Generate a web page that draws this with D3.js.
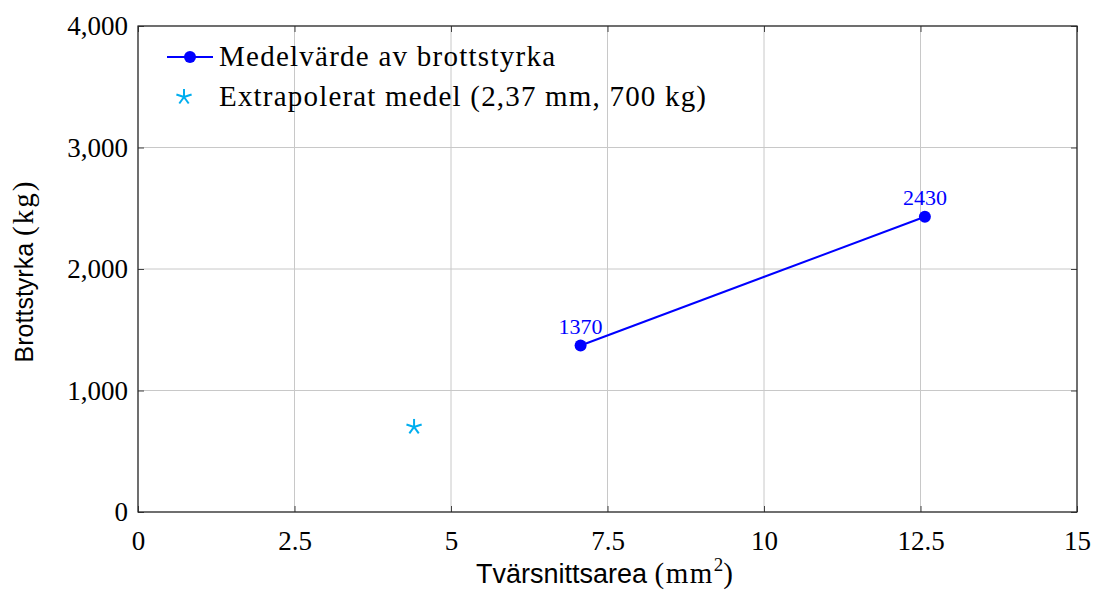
<!DOCTYPE html>
<html>
<head>
<meta charset="utf-8">
<script src="https://cdn.jsdelivr.net/npm/d3@7"></script>
<style>
  body { margin: 0; background: #fff; }
  .tick text { font-family: "Liberation Serif", serif; font-size: 27px; fill: #000; }
</style>
</head>
<body>
<div id="chart"></div>
<script>
// mean breaking strength per cross-section area
const areas = [7.07, 12.57];
const strengths = [1370, 2430];
// extrapolated mean (2.37 mm -> area)
const extraArea = [4.41];
const extraStrength = [700];

const xTicks = [0, 2.5, 5, 7.5, 10, 12.5, 15];
const yTicks = [0, 1000, 2000, 3000, 4000];
const legendLabels = ["Medelvärde av brottstyrka", "Extrapolerat medel (2,37 mm, 700 kg)"];

let margin = { top: 26, left: 138, right: 20, bottom: 82 },
  W = 1097, H = 594,
  width = W - margin.left - margin.right,
  height = H - margin.top - margin.bottom;

let svg = d3.select("#chart").append("svg")
  .attr("width", W).attr("height", H);

let g = svg.append("g")
  .attr("transform", "translate(" + margin.left + "," + margin.top + ")");

let x = d3.scaleLinear().domain([0, 15]).range([0, width]);
let y = d3.scaleLinear().domain([0, 4000]).range([height, 0]);

// grid
g.selectAll(".vgrid").data(xTicks).enter().append("line")
  .attr("x1", d => x(d)).attr("x2", d => x(d))
  .attr("y1", 0).attr("y2", height)
  .attr("stroke", "#c8c8c8").attr("stroke-width", 1);
g.selectAll(".hgrid").data(yTicks).enter().append("line")
  .attr("y1", d => y(d)).attr("y2", d => y(d))
  .attr("x1", 0).attr("x2", width)
  .attr("stroke", "#c8c8c8").attr("stroke-width", 1);

// axes (ticks inside on all four sides)
let xAxis = g.append("g")
  .attr("transform", "translate(0," + height + ")")
  .call(d3.axisBottom(x).tickValues(xTicks).tickSize(-6).tickPadding(12)
    .tickFormat(d => d3.format("")(d)));
let yAxis = g.append("g")
  .call(d3.axisLeft(y).tickValues(yTicks).tickSize(-6).tickPadding(10)
    .tickFormat(d3.format(",")));
g.append("g")
  .call(d3.axisTop(x).tickValues(xTicks).tickSize(-6).tickFormat(""));
g.append("g").attr("transform", "translate(" + width + ",0)")
  .call(d3.axisRight(y).tickValues(yTicks).tickSize(-6).tickFormat(""));
g.selectAll(".domain").remove();
g.selectAll(".tick line").attr("stroke", "#444");
xAxis.selectAll("text").attr("dy", "0.95em");

// box
g.append("rect").attr("width", width).attr("height", height)
  .attr("fill", "none").attr("stroke", "#222").attr("stroke-width", 1.2);

// axis labels: sans part + serif unit part
let xl = svg.append("text")
  .attr("x", margin.left + width / 2 - 3).attr("y", 583)
  .attr("text-anchor", "middle")
  .style("font-family", "Liberation Sans, Arial, sans-serif").style("font-size", "27px");
xl.append("tspan").text("Tvärsnittsarea ");
xl.append("tspan").style("font-family", "Liberation Serif, serif").style("font-size", "29px")
  .style("letter-spacing", "1.5px").text("(mm");
xl.append("tspan").style("font-family", "Liberation Serif, serif").style("font-size", "19px")
  .attr("dy", -12).text("2");
xl.append("tspan").style("font-family", "Liberation Serif, serif").style("font-size", "29px")
  .attr("dy", 12).text(")");

let yl = svg.append("text")
  .attr("transform", "translate(33," + (margin.top + height / 2 + 2) + ") rotate(-90)")
  .attr("text-anchor", "middle")
  .style("font-family", "Liberation Sans, Arial, sans-serif").style("font-size", "25px");
yl.append("tspan").text("Brottstyrka ");
yl.append("tspan").style("font-family", "Liberation Serif, serif").style("font-size", "29px")
  .style("letter-spacing", "2px").text("(kg)");

// series
const pts = areas.map((a, i) => [a, strengths[i]]);
g.append("path").datum(pts)
  .attr("fill", "none").attr("stroke", "#0000ff").attr("stroke-width", 2)
  .attr("d", d3.line().x(d => x(d[0])).y(d => y(d[1])));
g.selectAll(".pt").data(pts).enter().append("circle")
  .attr("cx", d => x(d[0])).attr("cy", d => y(d[1])).attr("r", 6)
  .attr("fill", "#0000ff");
g.selectAll(".lbl").data(pts).enter().append("text")
  .attr("x", d => x(d[0])).attr("y", d => y(d[1]) - 12)
  .attr("text-anchor", "middle")
  .style("font-family", "Liberation Serif, serif").style("font-size", "22px")
  .attr("fill", "#0000ff")
  .text(d => d[1]);

// five-armed star marker
function star(sel, cx, cy, r, color) {
  for (let k = 0; k < 5; k++) {
    let a = -Math.PI / 2 + k * 2 * Math.PI / 5;
    sel.append("line")
      .attr("x1", cx).attr("y1", cy)
      .attr("x2", cx + r * Math.cos(a)).attr("y2", cy + r * Math.sin(a))
      .attr("stroke", color).attr("stroke-width", 2);
  }
}
extraArea.forEach((a, i) => star(g, x(a), y(extraStrength[i]), 8, "#00aeef"));

// legend (no frame)
let leg = svg.append("g");
leg.append("line").attr("x1", 167).attr("x2", 213).attr("y1", 57).attr("y2", 57)
  .attr("stroke", "#0000ff").attr("stroke-width", 2);
leg.append("circle").attr("cx", 190).attr("cy", 57).attr("r", 6).attr("fill", "#0000ff");
star(leg, 184, 97, 8, "#00aeef");
const legWidths = [336, 487];
leg.selectAll(".lt").data(legendLabels).enter().append("text")
  .attr("x", 219).attr("y", (d, i) => 66 + i * 40)
  .attr("textLength", (d, i) => legWidths[i]).attr("lengthAdjust", "spacing")
  .style("font-family", "Liberation Serif, serif").style("font-size", "29px")
  .text(d => d);
</script>
</body>
</html>
